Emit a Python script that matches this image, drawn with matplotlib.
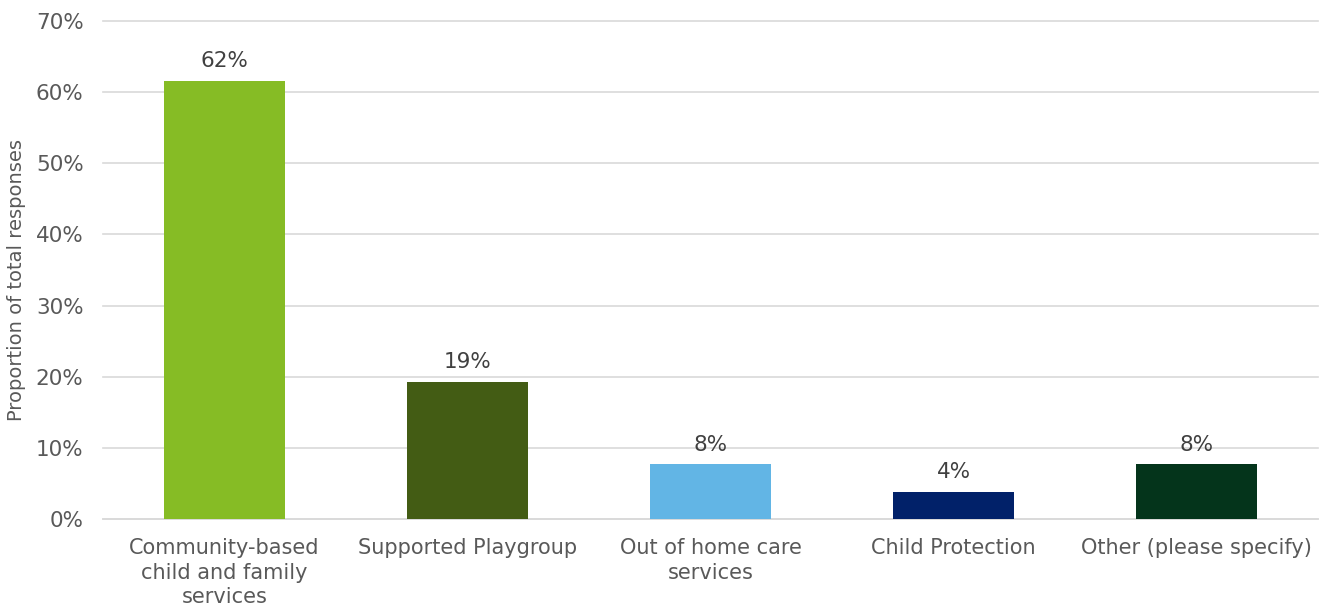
"""
Survey responses by service type
"""
import matplotlib.pyplot as plt
from matplotlib.ticker import PercentFormatter

categories = ['Community-based\nchild and family\nservices', 'Supported Playgroup',
              'Out of home care\nservices', 'Child Protection', 'Other (please specify)']
counts = [16, 5, 2, 1, 2]
total = 26
shares = [100 * c / total for c in counts]
bar_colors = ['#86BC25', '#435C14', '#62B5E5', '#012169', '#04341B']

text_grey = '#595959'

fig = plt.figure(figsize=(13.24, 6.08), dpi=100)
ax = fig.add_axes([0.0778, 0.1464, 0.9177, 0.8191])

x = range(len(categories))
bars = ax.bar(x, shares, width=0.5, color=bar_colors, zorder=3)
for b, v in zip(bars, shares):
    ax.annotate(f'{v:.0f}%', (b.get_x() + b.get_width() / 2, v), xytext=(0, 7),
                textcoords='offset points', ha='center', va='bottom',
                fontsize=15.5, color='#404040')

ax.set_xlim(-0.5, len(categories) - 0.5)
ax.set_ylim(0, 70)
ax.set_yticks(range(0, 71, 10))
ax.yaxis.set_major_formatter(PercentFormatter(decimals=0))
ax.set_xticks(list(x))
ax.set_xticklabels(categories, fontsize=15, color=text_grey, linespacing=1.27)
ax.tick_params(axis='y', labelsize=15.5, labelcolor=text_grey, length=0, pad=14)
ax.tick_params(axis='x', length=0, pad=14)
ax.grid(axis='y', color='#D9D9D9', linewidth=1.2, zorder=0)
# keep the 70% gridline from being clipped at the top edge
for gl in ax.get_ygridlines():
    gl.set_clip_on(False)
for side in ['top', 'right', 'left']:
    ax.spines[side].set_visible(False)
ax.spines['bottom'].set_color('#D9D9D9')
ax.spines['bottom'].set_linewidth(1.2)
ax.set_ylabel('Proportion of total responses', fontsize=14, color=text_grey)
ax.yaxis.set_label_coords(-0.063, 0.48)

plt.savefig('out.png', dpi=100)
